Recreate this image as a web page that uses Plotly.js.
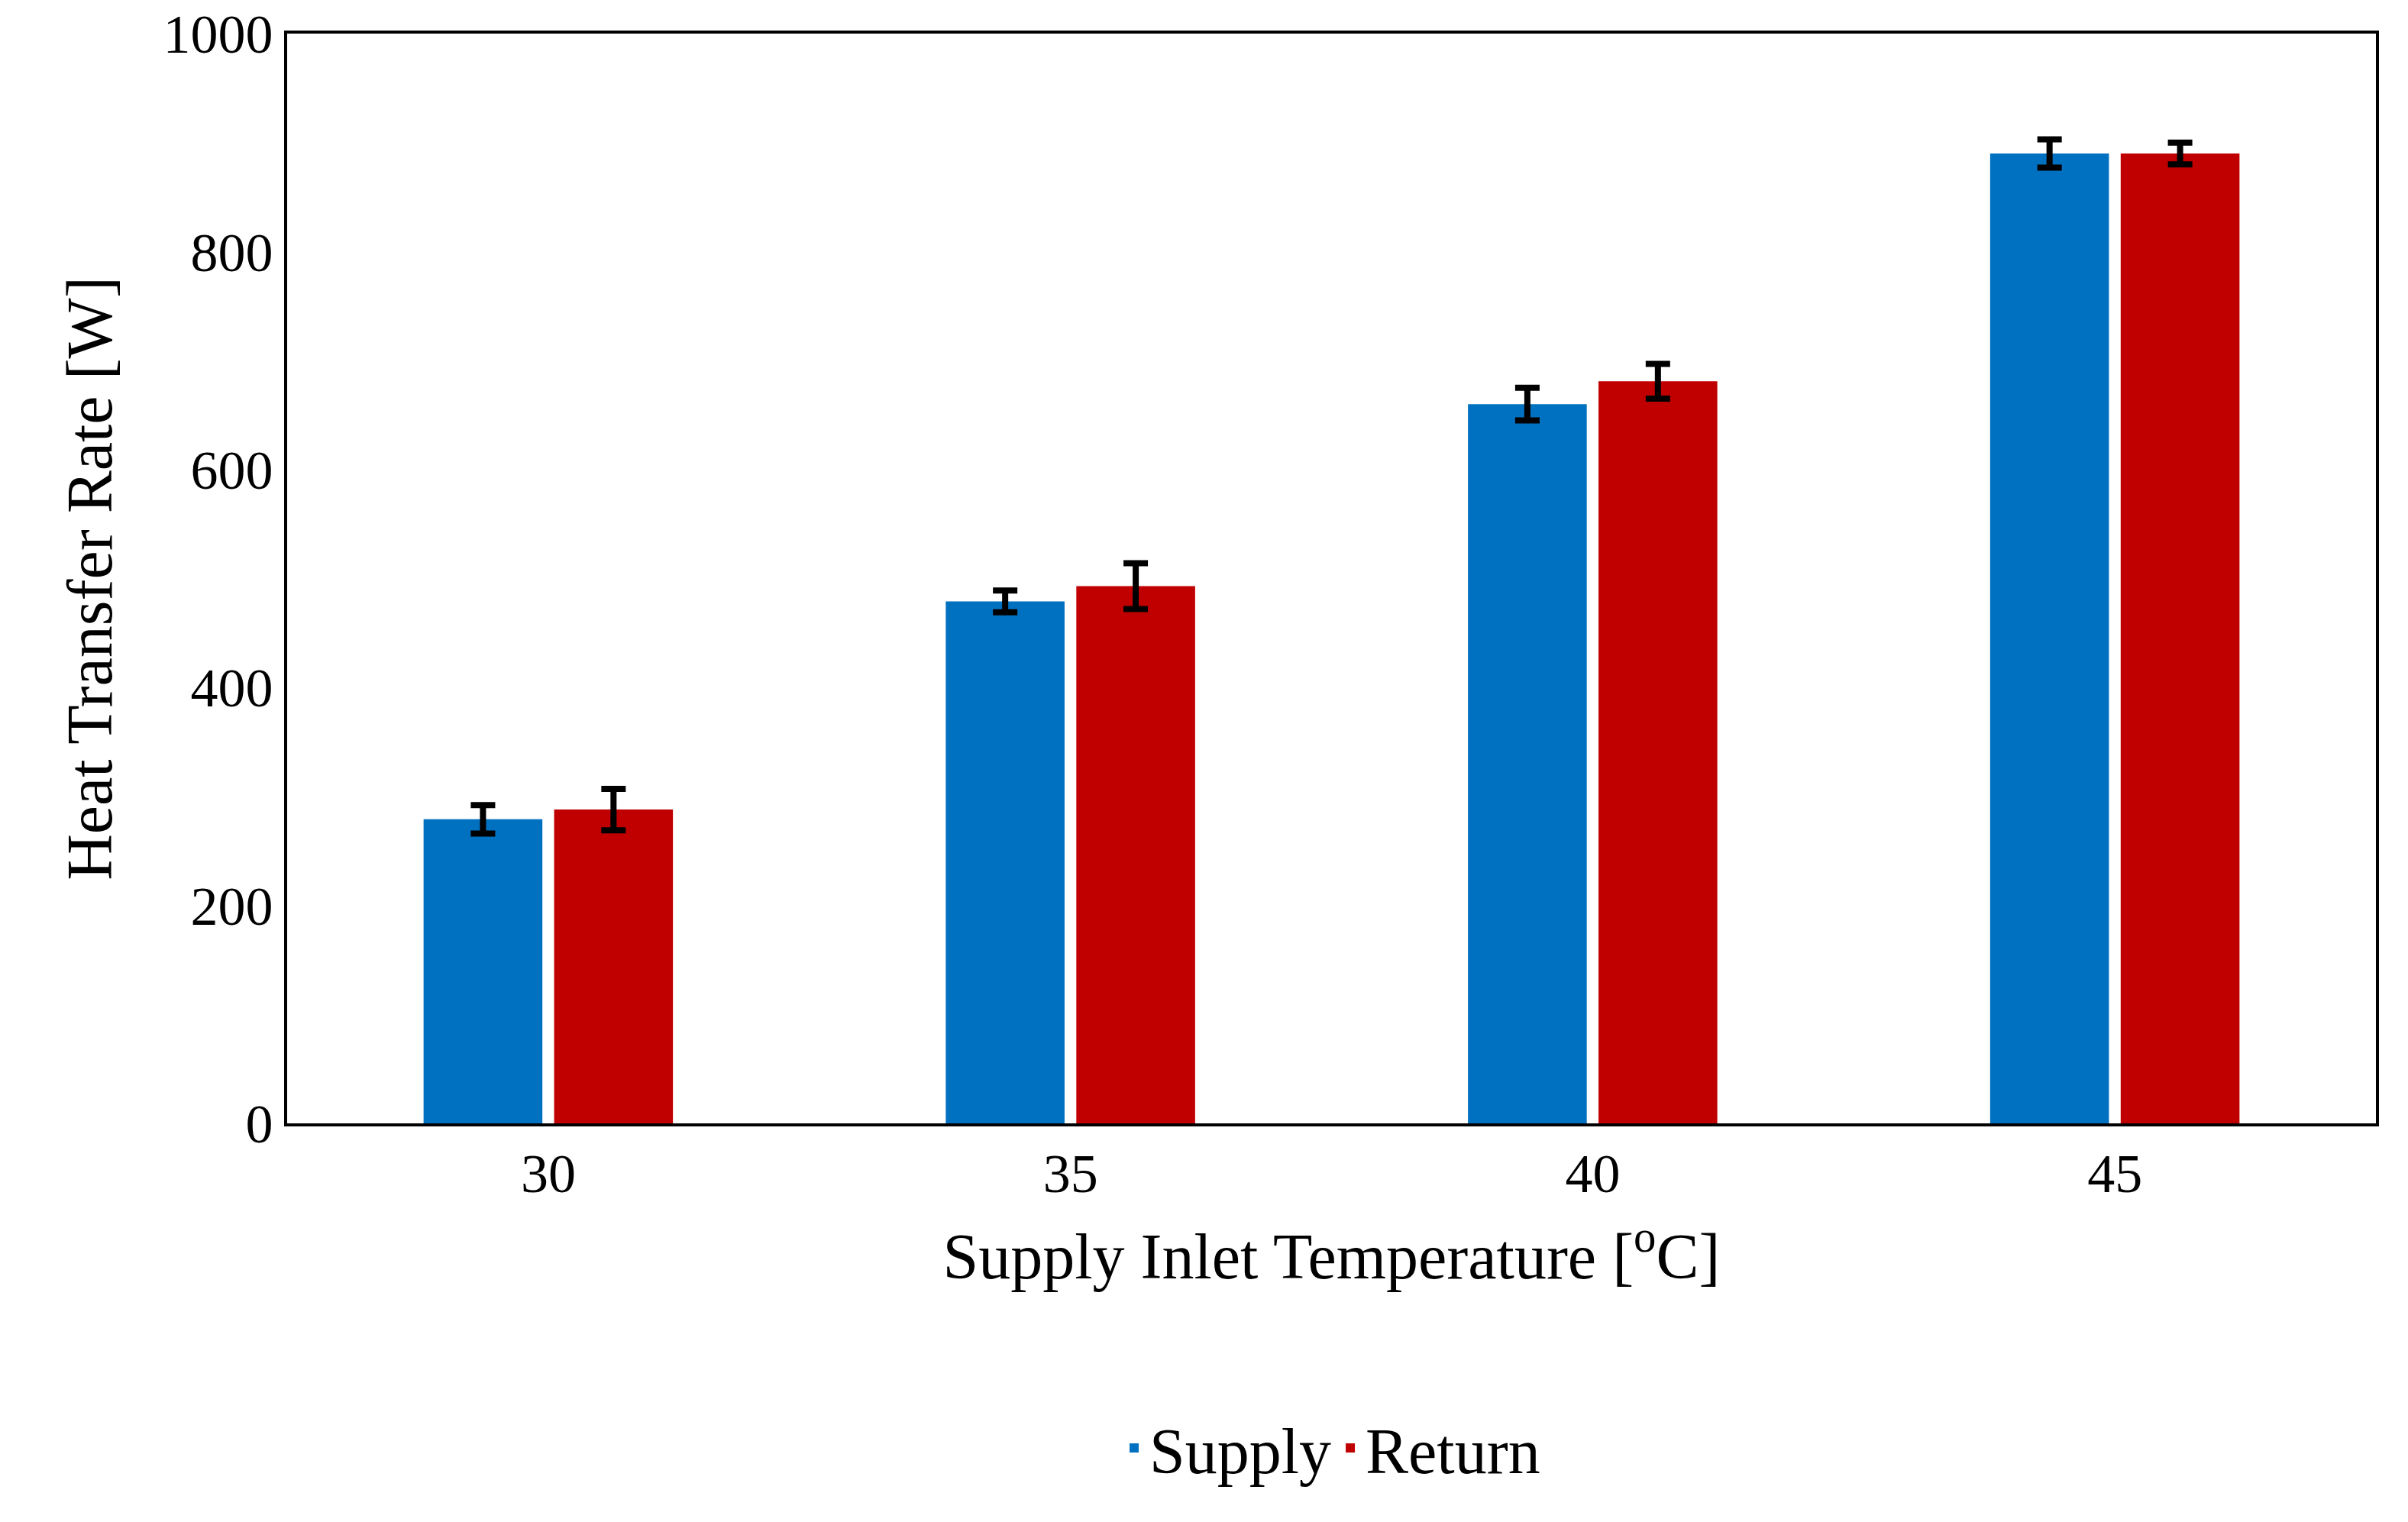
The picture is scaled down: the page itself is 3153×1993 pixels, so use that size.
<!DOCTYPE html>
<html><head><meta charset="utf-8">
<script src="https://cdn.plot.ly/plotly-3.0.1.min.js"></script>
<style>body{margin:0;background:#fff}</style></head>
<body><div id="c" style="width:3153px;height:1993px"></div>
<script>
const categories = ["30","35","40","45"];
const supplyValues = [279, 479, 660, 890];
const supplyErrors = [13, 10, 15, 13];
const returnValues = [288, 493, 681, 890];
const returnErrors = [19, 21, 16, 10];
const F = "Liberation Serif, Times New Roman, serif";
const eb = (a)=>({type:'data',array:a,visible:true,color:'#000',thickness:8,width:16});
Plotly.newPlot('c',[
 {type:'bar',name:'Supply',x:categories,y:supplyValues,marker:{color:'#0070C0'},error_y:eb(supplyErrors)},
 {type:'bar',name:'Return',x:categories,y:returnValues,marker:{color:'#C00000'},error_y:eb(returnErrors)}
],{
 width:3153,height:1993,paper_bgcolor:'#fff',plot_bgcolor:'#fff',
 margin:{l:376,r:42,t:44,b:522},
 barmode:'group',bargap:0.5,bargroupgap:0.09,
 font:{family:F,color:'#000',size:72},
 xaxis:{type:'category',showline:true,mirror:true,linecolor:'#000',linewidth:4,ticks:'',
   tickfont:{size:72},title:{text:'Supply Inlet Temperature [<sup>o</sup>C]',font:{size:84},standoff:40}},
 yaxis:{range:[0,1000],dtick:200,showgrid:false,showline:true,mirror:true,linecolor:'#000',linewidth:4,
   ticks:'',zeroline:false,tickfont:{size:72},title:{text:'Heat Transfer Rate [W]',font:{size:84},standoff:40}},
 legend:{orientation:'h',x:0.5,xanchor:'center',y:-0.255,yanchor:'top',font:{size:84}}
},{displayModeBar:false});
</script></body></html>
